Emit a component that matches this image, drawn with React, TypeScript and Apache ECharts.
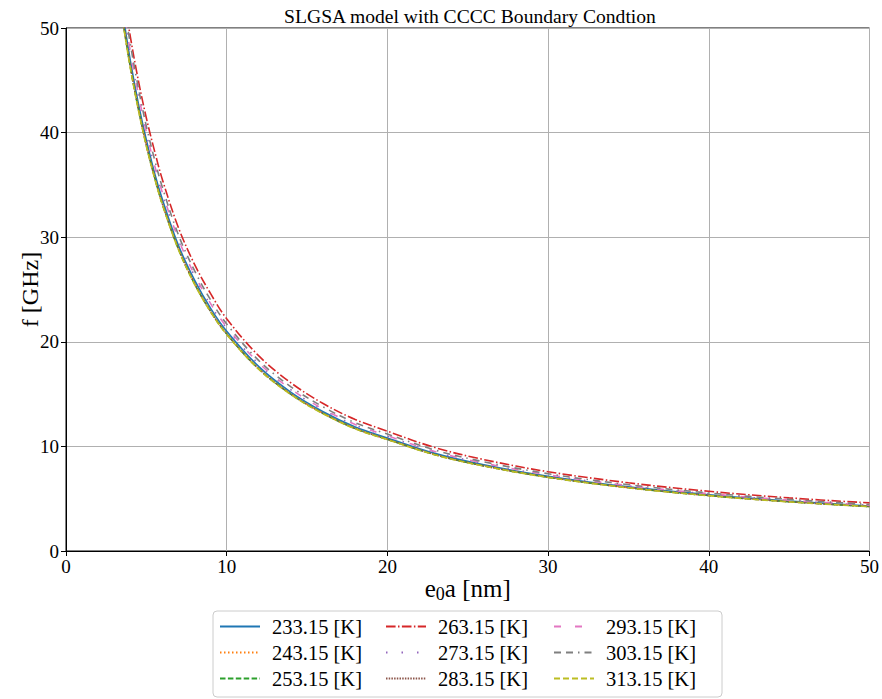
import React, { useEffect, useRef } from "react";
import * as echarts from "echarts";

const xValues = [3, 3.5, 4, 4.5, 5, 5.5, 6, 7, 8, 9, 10, 12, 14, 16, 18, 20, 23, 26, 30, 35, 40, 45, 50];

const f233 = [57.4, 51.8, 46.9, 42.8, 39.3, 36.2, 33.6, 29.2, 25.9, 23.2, 21.0, 17.62, 15.17, 13.32, 11.86, 10.81, 9.31, 8.24, 7.15, 6.13, 5.37, 4.77, 4.3];
const f243 = [56.8, 51.2, 46.4, 42.4, 38.85, 35.85, 33.2, 28.9, 25.6, 22.95, 20.78, 17.43, 15.01, 13.17, 11.73, 10.69, 9.21, 8.15, 7.07, 6.06, 5.31, 4.72, 4.26];
const f253 = [56.7, 51.1, 46.3, 42.3, 38.8, 35.8, 33.15, 28.85, 25.55, 22.9, 20.74, 17.4, 14.98, 13.15, 11.7, 10.67, 9.19, 8.14, 7.05, 6.05, 5.3, 4.71, 4.25];
const f263 = [60.0, 54.1, 49.2, 45.0, 41.4, 38.3, 35.5, 30.9, 27.4, 24.6, 22.2, 18.65, 16.07, 14.1, 12.57, 11.45, 9.87, 8.74, 7.58, 6.52, 5.71, 5.08, 4.6];
const f273 = [58.3, 52.5, 47.6, 43.5, 39.9, 36.8, 34.1, 29.7, 26.3, 23.5, 21.3, 17.88, 15.4, 13.51, 12.03, 10.97, 9.45, 8.36, 7.25, 6.22, 5.45, 4.84, 4.37];
const f283 = [56.75, 51.15, 46.35, 42.3, 38.8, 35.8, 33.2, 28.9, 25.6, 22.9, 20.76, 17.41, 15.0, 13.16, 11.71, 10.68, 9.2, 8.14, 7.06, 6.06, 5.3, 4.71, 4.25];
const f293 = [58.6, 52.8, 47.8, 43.7, 40.05, 36.95, 34.26, 29.8, 26.4, 23.65, 21.42, 17.97, 15.47, 13.58, 12.09, 11.02, 9.49, 8.4, 7.29, 6.25, 5.48, 4.86, 4.39];
const f303 = [59.4, 53.5, 48.5, 44.3, 40.6, 37.5, 34.75, 30.2, 26.8, 24.0, 21.7, 18.2, 15.7, 13.78, 12.26, 11.18, 9.63, 8.53, 7.39, 6.34, 5.55, 4.94, 4.45];
const f313 = [56.6, 51.0, 46.2, 42.2, 38.7, 35.7, 33.1, 28.8, 25.5, 22.85, 20.7, 17.36, 14.95, 13.12, 11.68, 10.65, 9.17, 8.12, 7.04, 6.04, 5.29, 4.70, 4.24];

const seriesNames = ["233.15 [K]", "243.15 [K]", "253.15 [K]", "263.15 [K]", "273.15 [K]", "283.15 [K]", "293.15 [K]", "303.15 [K]", "313.15 [K]"];
const seriesValues = [f233, f243, f253, f263, f273, f283, f293, f303, f313];
const colors = ["#1f77b4", "#ff7f0e", "#2ca02c", "#d62728", "#9467bd", "#8c564b", "#e377c2", "#7f7f7f", "#bcbd22"];
const dashes: any[] = ["solid", [1.5, 2.5], [5.5, 2.4], [9.6, 2.4, 1.5, 2.4], [1.5, 14], [1.5, 1.2], [7, 14], [7, 5, 7, 5, 1.5, 5], [6, 3]];

const xTicks = [0, 10, 20, 30, 40, 50];

const FONT = "Liberation Serif";

export default function App() {
  const ref = useRef<HTMLDivElement>(null);
  useEffect(() => {
    if (!ref.current) return;
    const chart = echarts.init(ref.current, undefined, { renderer: "svg" });
    const series = seriesValues.map((vals, i) => ({
      name: seriesNames[i],
      type: "line",
      data: xValues.map((x, j) => [x, vals[j]]),
      showSymbol: false,
      symbol: "none",
      smooth: 0.35,
      clip: true,
      z: 3,
      lineStyle: { color: colors[i], width: 1.6, type: dashes[i] },
      itemStyle: { color: colors[i] },
    }));
    const legendCommon = {
      orient: "vertical",
      top: 611,
      itemWidth: 40,
      itemHeight: 14,
      itemGap: 5,
      z: 10,
      itemStyle: { opacity: 0 },
      textStyle: { fontFamily: FONT, fontSize: 20.5, color: "#000", padding: [0, 0, 0, 7] },
    };
    chart.setOption({
      animation: false,
      backgroundColor: "#fff",
      title: {
        text: "SLGSA model with CCCC Boundary Condtion",
        left: 465,
        top: 1,
        textAlign: "center",
        textStyle: { fontFamily: FONT, fontSize: 19.6, fontWeight: "normal", color: "#000" },
      },
      grid: {
        left: 66,
        right: 11,
        top: 28,
        bottom: 148,
        show: true,
        borderColor: "#000",
        borderWidth: 1,
        backgroundColor: "transparent",
      },
      xAxis: {
        type: "value",
        min: xTicks[0],
        max: xTicks[xTicks.length - 1],
        interval: 10,
        name: "{a|e}{s|0}{a|a [nm]}",
        nameLocation: "middle",
        nameGap: 23,
        nameMoveOverlap: false,
        nameTextStyle: {
          rich: {
            a: { fontFamily: FONT, fontSize: 25, color: "#000", lineHeight: 29 },
            s: { fontFamily: FONT, fontSize: 18, color: "#000", lineHeight: 29, verticalAlign: "bottom", padding: [10, 0, 0, 0] },
          },
        },
        axisLine: { show: true, lineStyle: { color: "#000", width: 1 } },
        axisTick: { show: true, length: 5, lineStyle: { color: "#000" } },
        axisLabel: { fontFamily: FONT, fontSize: 19, color: "#000", margin: 6 },
        splitLine: { show: true, lineStyle: { color: "#b0b0b0", width: 1 } },
      },
      yAxis: {
        type: "value",
        min: 0,
        max: 50,
        interval: 10,
        name: "f [GHz]",
        nameLocation: "middle",
        nameGap: 24,
        nameMoveOverlap: false,
        nameTextStyle: { fontFamily: FONT, fontSize: 24, color: "#000" },
        axisLine: { show: true, lineStyle: { color: "#000", width: 1 } },
        axisTick: { show: true, length: 5, lineStyle: { color: "#000" } },
        axisLabel: { fontFamily: FONT, fontSize: 19, color: "#000", margin: 7 },
        splitLine: { show: true, lineStyle: { color: "#b0b0b0", width: 1 } },
      },
      legend: [
        { ...legendCommon, left: 214, data: seriesNames.slice(0, 3) },
        { ...legendCommon, left: 380, data: seriesNames.slice(3, 6) },
        { ...legendCommon, left: 548, data: seriesNames.slice(6, 9) },
      ],
      graphic: [
        {
          type: "rect",
          z: 1,
          shape: { x: 213, y: 611, width: 509, height: 86, r: 4 },
          style: { fill: "#fff", stroke: "#cccccc", lineWidth: 1 },
        },
      ],
      series,
    });
    return () => chart.dispose();
  }, []);
  return (
    <div
      ref={ref}
      style={{ position: "fixed", left: 0, top: 0, width: 882, height: 699 }}
    />
  );
}
